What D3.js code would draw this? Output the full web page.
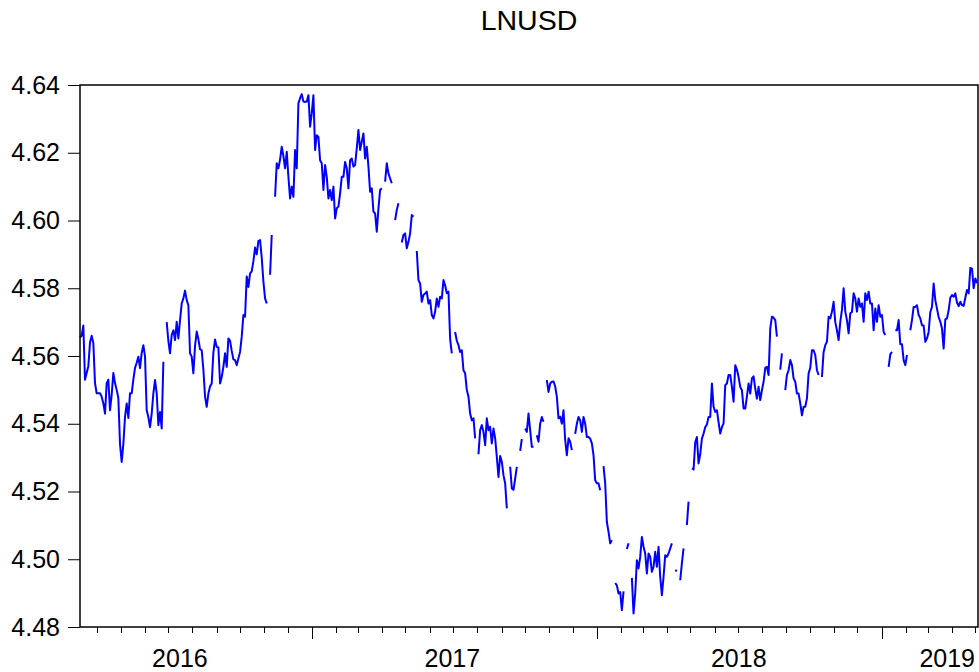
<!DOCTYPE html>
<meta charset="utf-8">
<style>
  body { margin: 0; background: #fff; }
  text { font-family: "Liberation Sans", Arial, sans-serif; fill: #000; }
</style>
<body>
<script src="https://d3js.org/d3.v7.min.js"></script>
<script>
var title = "LNUSD";
var firstDate = new Date(2016, 2, 10);
var stepDays = 2.136;
var lnusd = [
  4.5655, 4.566, 4.569, 4.553, 4.555, 4.557, 4.564, 4.566, 4.5638, 4.552,
  4.549, 4.549, 4.549, 4.548, 4.546, 4.543, 4.552, 4.553, 4.544, 4.5485,
  4.555, 4.552, 4.550, 4.5476, 4.534, 4.5287, 4.534, 4.542, 4.546, 4.5417,
  4.549, 4.549, 4.553, 4.5565, 4.558, 4.5598, 4.5564, 4.5609, 4.5632, 4.5598,
  4.544, 4.542, 4.539, 4.543, 4.549, 4.5529, 4.549, 4.5396, 4.5435, 4.5386,
  4.5583, null, 4.570, 4.5645, 4.5608, 4.5662, 4.5676, 4.5647, 4.5701, 4.5652,
  4.5706, 4.5755, 4.577, 4.5793, 4.5765, 4.575, 4.5608, 4.5598, 4.5549, 4.563,
  4.5672, 4.565, 4.562, 4.5617, 4.556, 4.548, 4.545, 4.5489, 4.551, 4.5519,
  4.561, 4.5649, 4.5627, 4.5625, 4.5519, 4.5538, 4.5568, 4.5608, 4.5568, 4.5652,
  4.5645, 4.5615, 4.559, 4.5588, 4.5573, 4.5593, 4.5612, 4.5657, 4.5721, 4.5716,
  4.5835, 4.5804, 4.5844, 4.585, 4.588, 4.592, 4.590, 4.594, 4.5942, 4.589,
  4.582, 4.577, 4.5755, null, 4.584, 4.5957, null, 4.607, 4.6169, 4.6154,
  4.618, 4.6218, 4.619, 4.6154, 4.6203, 4.6129, 4.6065, 4.610, 4.607, 4.6208,
  4.6154, 4.6346, 4.6361, 4.6373, 4.6351, 4.635, 4.6351, 4.637, 4.6277, 4.6316,
  4.637, 4.6208, 4.6252, 4.6247, 4.6178, 4.6169, 4.609, 4.6164, 4.6129, 4.6065,
  4.609, 4.606, 4.610, 4.6006, 4.6036, 4.6041, 4.608, 4.6129, 4.6129, 4.6173,
  4.6154, 4.6095, 4.6178, 4.6183, 4.6159, 4.6164, 4.6213, 4.6267, 4.6208, 4.6233,
  4.6257, 4.6183, 4.6218, 4.6159, 4.6085, 4.6095, 4.6026, 4.6021, 4.5967, 4.6036,
  4.609, 4.6095, null, 4.6115, 4.6169, 4.6139, 4.6124, 4.611, null, 4.6001,
  4.6031, 4.6051, null, 4.5935, 4.5957, 4.5962, 4.5918, 4.5937, 4.5962, 4.6016,
  4.6011, null, 4.591, 4.5824, 4.5814, 4.576, 4.578, 4.5785, 4.579, 4.5755,
  4.5765, 4.5721, 4.5711, 4.5731, 4.577, 4.5745, 4.5775, 4.577, 4.5824, 4.5809,
  4.5785, 4.579, 4.565, 4.5608, null, 4.5671, 4.5645, 4.5632, 4.5612, 4.5617,
  4.5558, 4.5549, 4.550, 4.548, 4.543, 4.541, 4.5416, 4.5357, null, 4.531,
  4.5381, 4.5396, 4.5376, 4.5337, 4.5416, 4.5381, 4.5391, 4.5342, 4.5386, 4.5357,
  4.5302, 4.5243, 4.5305, 4.5288, 4.5248, 4.5224, 4.515, null, 4.5273, 4.5209,
  4.5205, 4.5238, 4.5273, null, 4.532, 4.5355, null, 4.5386, 4.5376, 4.543,
  4.5381, 4.5332, 4.5332, null, 4.5366, 4.5347, 4.540, 4.542, 4.5406, null,
  4.5529, 4.5494, 4.5519, 4.5524, 4.5525, 4.551, 4.548, 4.5416, 4.5421, 4.540,
  4.544, 4.5352, 4.5307, 4.5357, 4.5347, 4.5322, null, 4.537, 4.540, 4.542,
  4.541, 4.5376, 4.542, 4.540, 4.5361, 4.5361, 4.5356, 4.5342, 4.5307, 4.5233,
  4.5224, 4.5224, 4.5204, null, 4.5275, 4.5224, 4.511, 4.5081, 4.5047, 4.5056,
  null, 4.493, 4.4923, 4.4899, 4.4903, 4.485, 4.4905, null, 4.503, 4.5047,
  null, 4.4945, 4.484, 4.4899, 4.4997, 4.4973, 4.5007, 4.5066, 4.5037, 4.5017,
  4.4958, 4.5017, 4.5007, 4.4963, 4.4978, 4.5022, 4.4978, 4.5037, 4.4948, 4.4894,
  4.4948, 4.5012, 4.5007, 4.5017, 4.5032, 4.5047, null, 4.4968, 4.4965, null,
  4.4938, 4.4988, 4.5032, null, 4.5101, 4.517, null, 4.5268, 4.5265, 4.5345,
  4.5361, 4.5283, 4.531, 4.5356, 4.5371, 4.539, 4.5398, 4.542, 4.542, 4.5519,
  4.545, 4.5435, 4.544, 4.5405, 4.5371, 4.539, 4.5401, 4.5514, 4.5519, 4.5544,
  4.5544, 4.5509, 4.5465, 4.5573, 4.556, 4.5538, 4.5509, 4.5499, 4.5445, 4.5445,
  4.548, 4.5519, 4.5489, 4.5534, 4.554, 4.5504, 4.5474, 4.5509, 4.547, 4.5499,
  4.5524, 4.5565, 4.5568, 4.5544, 4.5681, 4.5716, 4.5713, 4.5706, 4.5657, null,
  4.556, 4.5608, null, 4.5499, 4.5544, 4.5558, 4.5588, 4.5573, 4.5534, 4.5524,
  4.5489, 4.5489, 4.546, 4.5425, 4.545, 4.545, 4.5475, 4.5549, 4.5565, 4.5617,
  4.5617, 4.5603, 4.5558, 4.5544, null, 4.5538, 4.5612, 4.5632, 4.5642, 4.5716,
  4.5711, 4.5731, 4.576, 4.570, 4.5676, 4.5647, 4.5701, 4.5736, 4.580, 4.5731,
  4.5706, 4.5667, 4.5726, 4.573, 4.5785, 4.577, 4.5731, 4.577, 4.5745, 4.5755,
  4.5701, 4.5785, 4.5765, 4.579, 4.5755, 4.5755, 4.5676, 4.574, 4.5701, 4.575,
  4.5716, 4.5721, 4.5671, 4.5662, null, 4.5568, 4.5605, 4.5612, null, 4.5676,
  4.5676, 4.5706, 4.5635, 4.5635, 4.5588, 4.5573, 4.5603, null, 4.5676, 4.5706,
  4.5745, 4.5745, 4.575, 4.5721, 4.5711, 4.5691, 4.569, 4.5642, 4.5652, 4.5671,
  4.573, 4.5745, 4.5814, 4.5765, 4.574, 4.5715, 4.5701, 4.5681, 4.5622, 4.5708,
  4.5711, 4.5735, 4.5772, 4.578, 4.5775, 4.5785, 4.5758, 4.5747, 4.576, 4.575,
  4.5748, 4.5772, 4.5795, 4.5785, 4.586, 4.5858, 4.580, 4.5829, 4.5815
];
var yTicks = [4.48, 4.50, 4.52, 4.54, 4.56, 4.58, 4.60, 4.62, 4.64];
var yearLabels = ["2016", "2017", "2018", "2019"];
var yearLabelDates = ["2016-07-16", "2017-06-30", "2018-07-02", "2019-03-26"];

var width = 979, height = 672,
    plot = {left: 80, right: 978, top: 85, bottom: 627};

var data = lnusd.map(function(v, i) {
  return {date: new Date(+firstDate + i * stepDays * 864e5), value: v};
});

var x = d3.scaleTime()
  .domain([data[0].date, data[data.length - 1].date])
  .range([plot.left, 977]);
var y = d3.scaleLinear().domain([4.48, 4.64]).range([plot.bottom, plot.top]);

var svg = d3.select("body").append("svg")
  .attr("width", width)
  .attr("height", height);

// title
svg.append("text")
  .attr("x", (plot.left + plot.right) / 2)
  .attr("y", 30)
  .attr("text-anchor", "middle")
  .style("font-size", "28.5px")
  .text(title);

// y axis (ticks outside the frame)
var yAxis = d3.axisLeft(y)
  .tickValues(yTicks)
  .tickSize(12)
  .tickPadding(8)
  .tickFormat(d3.format(".2f"));
var gy = svg.append("g")
  .attr("transform", "translate(" + plot.left + ",0)")
  .call(yAxis);
gy.select(".domain").remove();
gy.selectAll("line").attr("stroke", "#000");
gy.selectAll("text")
  .style("font-size", "25px")
  .style("font-family", "'Liberation Sans', Arial, sans-serif")
  .attr("fill", "#000");

// x axis: month ticks, longer ticks at new years
var months = d3.timeMonth.range(x.domain()[0], x.domain()[1]);
svg.append("g").selectAll("line")
  .data(months)
  .enter().append("line")
  .attr("x1", function(d) { return Math.round(x(d)) + 0.5; })
  .attr("x2", function(d) { return Math.round(x(d)) + 0.5; })
  .attr("y1", plot.bottom)
  .attr("y2", function(d) { return d.getMonth() === 0 ? plot.bottom + 12 : plot.bottom + 6; })
  .attr("stroke", "#000")
  .attr("stroke-width", 1);

svg.append("g").selectAll("text")
  .data(yearLabels)
  .enter().append("text")
  .attr("x", function(d, i) { return x(d3.timeParse("%Y-%m-%d")(yearLabelDates[i])); })
  .attr("y", 667)
  .attr("text-anchor", "middle")
  .style("font-size", "25px")
  .text(function(d) { return d; });

// series
var line = d3.line()
  .defined(function(d) { return d.value != null; })
  .x(function(d) { return x(d.date); })
  .y(function(d) { return y(d.value); });

svg.append("path")
  .datum(data)
  .attr("fill", "none")
  .attr("stroke", "#0000ff")
  .attr("stroke-width", 2)
  .attr("stroke-linejoin", "round")
  .attr("d", line);

// frame
svg.append("rect")
  .attr("x", plot.left)
  .attr("y", plot.top)
  .attr("width", plot.right - plot.left)
  .attr("height", plot.bottom - plot.top)
  .attr("fill", "none")
  .attr("stroke", "#000")
  .attr("stroke-width", 1.5);
</script>
</body>
